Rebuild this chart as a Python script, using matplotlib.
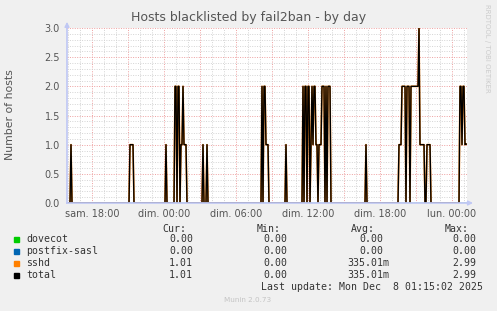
import numpy as np
import pandas as pd
import matplotlib
matplotlib.use('Agg')
import matplotlib.pyplot as plt
import matplotlib.dates as mdates
from matplotlib.ticker import MultipleLocator, FuncFormatter
from matplotlib.patches import Rectangle

W, H = 497, 311

# 5 minute samples, window ends at the last update
start = "2025-12-06 15:55"
n_samples = 400

# bursts of banned hosts (start of burst, one value per 5 min sample)
burst_start = ["2025-12-06 16:15", "2025-12-06 21:10", "2025-12-07 00:10",
               "2025-12-07 00:55", "2025-12-07 03:15", "2025-12-07 03:35",
               "2025-12-07 08:10", "2025-12-07 10:10", "2025-12-07 11:35",
               "2025-12-07 16:50", "2025-12-07 19:35", "2025-12-08 00:40"]
burst_values = [
    [1],
    [1, 1, 1, 1],
    [1],
    [2, 2, 0, 2, 2, 0, 1, 1, 2, 1, 1, 1],
    [1],
    [1],
    [2, 0, 2, 2, 1, 1, 1],
    [1],
    [2, 0, 2, 2, 0, 2, 2, 0, 1, 2, 1, 2, 2, 1, 1, 0, 1, 1, 1, 2, 2, 2, 0, 2, 0, 2, 2, 2],
    [1],
    [1, 1, 1, 2, 2, 2, 2, 0, 2, 2, 2, 0, 2, 2, 2, 2, 2, 2, 2, 2, 2.99, 1, 1, 1, 1, 1, 0, 0, 1, 1, 1, 1],
    [2, 2, 1, 2, 2, 1, 1.01],
]

series = ["dovecot", "postfix-sasl", "sshd", "total"]
colors = ["#00cc00", "#0066b3", "#ff8000", "#000000"]
cur = ["0.00", "0.00", "1.01", "1.01"]
mins = ["0.00", "0.00", "0.00", "0.00"]
avgs = ["0.00", "0.00", "335.01m", "335.01m"]
maxs = ["0.00", "0.00", "2.99", "2.99"]

days_fr = ["lun.", "mar.", "mer.", "jeu.", "ven.", "sam.", "dim."]

times = pd.date_range(start, periods=n_samples + 1, freq="5min")
sshd = np.zeros(n_samples + 1)
for s, vals in zip(burst_start, burst_values):
    i = times.get_loc(pd.Timestamp(s))
    sshd[i:i + len(vals)] = vals
sshd[-1] = sshd[-2]
zero = np.zeros(n_samples + 1)
total = sshd + zero + zero


def fx(x):
    return x / W


def fy(y):
    return 1 - y / H


fig = plt.figure(figsize=(W / 100, H / 100), dpi=100, facecolor="#f0f0f0")
ax = fig.add_axes([fx(67), fy(203), 400 / W, 175 / H])
ax.set_facecolor("white")

# rrdtool joins the samples with straight lines (1 px per sample)
x = times.to_pydatetime()
ax.plot(x, zero, color=colors[0], lw=1)
ax.plot(x, zero, color=colors[1], lw=1)
ax.plot(x, sshd, color=colors[2], lw=1.2)
ax.plot(x, total, color=colors[3], lw=1.0)

ax.set_xlim(times[0], times[-1])
ax.set_ylim(0, 3)

ax.xaxis.set_major_locator(mdates.HourLocator(byhour=range(0, 24, 3)))
ax.xaxis.set_minor_locator(mdates.HourLocator())


def xlab(v, pos):
    d = mdates.num2date(v)
    if d.hour % 6:
        return ""
    return "%s %02d:00" % (days_fr[d.weekday()], d.hour)


ax.xaxis.set_major_formatter(FuncFormatter(xlab))
ax.yaxis.set_major_locator(MultipleLocator(0.5))
ax.yaxis.set_minor_locator(MultipleLocator(0.1))
ax.yaxis.set_major_formatter(FuncFormatter(lambda v, p: "%.1f" % v))

ax.grid(which="minor", color="#d4d4d4", lw=0.7, linestyle=(0, (1, 1.5)))
ax.grid(which="major", color="#eea0a0", lw=0.7, linestyle=(0, (1, 1.5)))
ax.set_axisbelow(True)
ax.tick_params(which="both", length=0, labelsize=7, labelcolor="#555555")
ax.tick_params(axis="x", pad=4)
ax.tick_params(axis="y", pad=5)

for side in ["top", "right"]:
    ax.spines[side].set_visible(False)
for side in ["left", "bottom"]:
    ax.spines[side].set_color("#c0c8f4")
    ax.spines[side].set_linewidth(1.25)
    ax.spines[side].set_zorder(5)

arrow = dict(arrowstyle="-|>", color="#c0c8f4", lw=1, mutation_scale=7, shrinkA=0, shrinkB=0)
ax.annotate("", xy=(0, 1.035), xytext=(0, 1.0), xycoords="axes fraction", arrowprops=arrow,
            annotation_clip=False)
ax.annotate("", xy=(1.015, 0), xytext=(1.0, 0), xycoords="axes fraction", arrowprops=arrow,
            annotation_clip=False)

fig.text(fx(249), fy(18), "Hosts blacklisted by fail2ban - by day", ha="center", va="center",
         fontsize=9, color="#555555")
fig.text(fx(10), fy(115), "Number of hosts", rotation=90, ha="center", va="center",
         fontsize=7.8, color="#555555")
fig.text(fx(487), fy(4), "RRDTOOL / TOBI OETIKER", rotation=270, ha="center", va="top",
         fontsize=5, color="#cccccc")

mono = dict(family="DejaVu Sans Mono", fontsize=7.1, color="#333333", va="center")
cw = 5.92
heads = ["Cur:", "Min:", "Avg:", "Max:"]
head_right = [186, 281, 375, 469]
col_right = [193, 287, 383, 476]
for h, r in zip(heads, head_right):
    fig.text(fx(r), fy(228.5), h, ha="right", **mono)

row_y = [239.5, 251.5, 263.5, 275.5]
for k in range(len(series)):
    yy = row_y[k]
    fig.patches.append(Rectangle((fx(14), fy(yy + 2.7)), 5.4 / W, 5.4 / H,
                                 transform=fig.transFigure, color=colors[k]))
    fig.text(fx(26), fy(yy), series[k], ha="left", **mono)
    for col, vals in enumerate([cur, mins, avgs, maxs]):
        s = vals[k]
        r = col_right[col] + (cw if s[-1].isalpha() else 0)
        fig.text(fx(r), fy(yy), s, ha="right", **mono)

fig.text(fx(483), fy(287.5), "Last update: Mon Dec  8 01:15:02 2025", ha="right", **mono)
fig.text(fx(248), fy(300), "Munin 2.0.73", ha="center", va="center", fontsize=5.2, color="#c4c4c4")

fig.savefig("out.png", dpi=100, facecolor=fig.get_facecolor())
